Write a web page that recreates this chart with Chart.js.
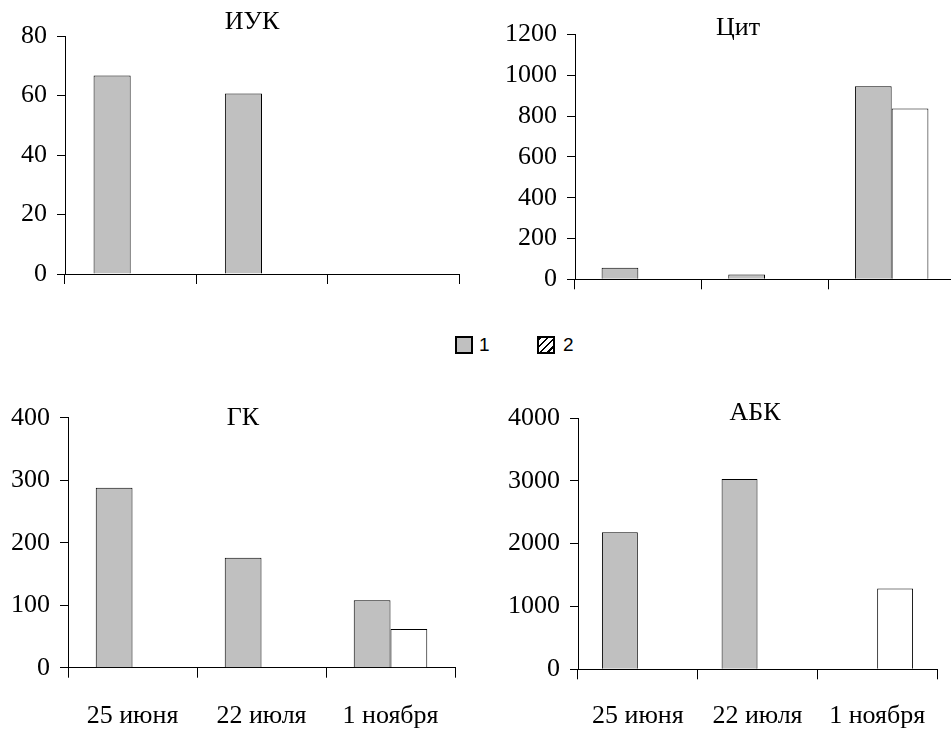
<!DOCTYPE html>
<html>
<head>
<meta charset="utf-8">
<script src="https://cdn.jsdelivr.net/npm/chart.js@4/dist/chart.umd.min.js"></script>
<style>
  html, body { margin: 0; padding: 0; background: #fff; overflow: hidden; width: 951px; height: 731px; }
  .wrap { position: absolute; }
  .wrap canvas { display: block; }
  #legend { position: absolute; left: 0; top: 0; font-family: "Liberation Sans", Arial, sans-serif; font-size: 19px; color: #000; }
  .lg-box { position: absolute; width: 18px; height: 18px; box-sizing: border-box; border: 2px solid #000; }
  .lg-txt { position: absolute; line-height: 18px; }
</style>
</head>
<body>
<div class="wrap" id="w1" style="left:0px; top:0px; width:460px; height:300px;"><canvas id="c1"></canvas></div>
<div class="wrap" id="w2" style="left:475px; top:0px; width:481px; height:306px;"><canvas id="c2"></canvas></div>
<div class="wrap" id="w3" style="left:0px; top:380px; width:456px; height:351px;"><canvas id="c3"></canvas></div>
<div class="wrap" id="w4" style="left:475px; top:380px; width:463px; height:351px;"><canvas id="c4"></canvas></div>
<div id="legend">
  <div class="lg-box" style="left:455px; top:336px; background:#c0c0c0;"></div>
  <div class="lg-txt" style="left:479px; top:336px;">1</div>
  <div class="lg-box" style="left:537px; top:336px; background:repeating-linear-gradient(135deg, #000 0 2px, #fff 2px 5px);"></div>
  <div class="lg-txt" style="left:563px; top:336px;">2</div>
</div>
<script>
// ---- data ----
const categories = ['25 июня', '22 июля', '1 ноября'];
const seriesNames = ['1', '2'];
const titles = ['ИУК', 'Цит', 'ГК', 'АБК'];

const iukSeries1 = [66.7, 60.7, null];
const iukSeries2 = [null, null, null];
const citSeries1 = [57, 24, 946];
const citSeries2 = [null, null, 837];
const gkSeries1 = [288, 176, 108];
const gkSeries2 = [null, null, 62];
const abkSeries1 = [2180, 3030, null];
const abkSeries2 = [null, null, 1285];

const yMax = [80, 1200, 400, 4000];
const yStep = [20, 200, 100, 1000];

// ---- styling ----
const SERIF = '"Liberation Serif", "Times New Roman", serif';
const FS = 26;
const LH = FS * 1.2;
const tickFont = { family: SERIF, size: FS, lineHeight: 1.2 };
const titleFont = { family: SERIF, size: FS, lineHeight: 1.2, weight: 'normal' };

const titlePlace = {
  id: 'titlePlace',
  afterLayout(chart, args, opts) {
    const t = chart.titleBlock;
    if (!t || opts.cx == null) return;
    const h = t.bottom - t.top;
    t.left = opts.cx - 120; t.right = opts.cx + 120; t.width = 240;
    t.top = opts.cy - h / 2; t.bottom = opts.cy + h / 2;
  }
};

function makeChart(id, idx, s1, s2, geo) {
  const ctx = document.getElementById(id);
  return new Chart(ctx, {
    type: 'bar',
    data: {
      labels: categories,
      datasets: [
        { label: seriesNames[0], data: s1, backgroundColor: '#c0c0c0', borderColor: '#000', borderWidth: 1,
          barPercentage: 1, categoryPercentage: geo.catPct },
        { label: seriesNames[1], data: s2, backgroundColor: '#ffffff', borderColor: '#000', borderWidth: 1,
          barPercentage: 1, categoryPercentage: geo.catPct }
      ]
    },
    options: {
      responsive: true,
      maintainAspectRatio: false,
      animation: false,
      events: [],
      layout: { padding: { top: geo.top - LH, right: 1, left: 0, bottom: 0 } },
      plugins: {
        legend: { display: false },
        tooltip: { enabled: false },
        title: { display: true, text: titles[idx], font: titleFont, color: '#000', padding: 0 },
        titlePlace: { cx: geo.tcx, cy: geo.tcy }
      },
      scales: {
        x: {
          grid: { display: true, offset: true, drawOnChartArea: false, drawTicks: true, tickLength: 10, color: '#000', lineWidth: 1 },
          border: { display: true, color: '#000', width: 1 },
          ticks: { display: geo.labels, font: { family: SERIF, size: FS, lineHeight: geo.xLine + 'px' }, color: '#000', padding: 0, maxRotation: 0, autoSkip: false },
          afterFit: s => { s.height = geo.xh; }
        },
        y: {
          min: 0, max: yMax[idx],
          grid: { display: true, drawOnChartArea: false, drawTicks: true, tickLength: 8, color: '#000', lineWidth: 1 },
          border: { display: true, color: '#000', width: 1 },
          ticks: { stepSize: yStep[idx], font: tickFont, color: '#000', padding: 10, callback: v => String(v) },
          afterFit: s => { s.width = geo.yw; }
        }
      }
    },
    plugins: [titlePlace]
  });
}

makeChart('c1', 0, iukSeries1, iukSeries2, { top: 36, yw: 65, xh: 300 - 274, labels: false, xLine: 31, catPct: 0.565, tcx: 252, tcy: 22 });
makeChart('c2', 1, citSeries1, citSeries2, { top: 34.5, yw: 100, xh: 306 - 279.3, labels: false, xLine: 31, catPct: 0.58, tcx: 263, tcy: 28 });
makeChart('c3', 2, gkSeries1, gkSeries2, { top: 37.7, yw: 68, xh: 351 - 287.7, labels: true, xLine: 76.6, catPct: 0.57, tcx: 243, tcy: 38 });
makeChart('c4', 3, abkSeries1, abkSeries2, { top: 38, yw: 103, xh: 351 - 289.3, labels: true, xLine: 73.4, catPct: 0.6, tcx: 280, tcy: 33 });
</script>
</body>
</html>
